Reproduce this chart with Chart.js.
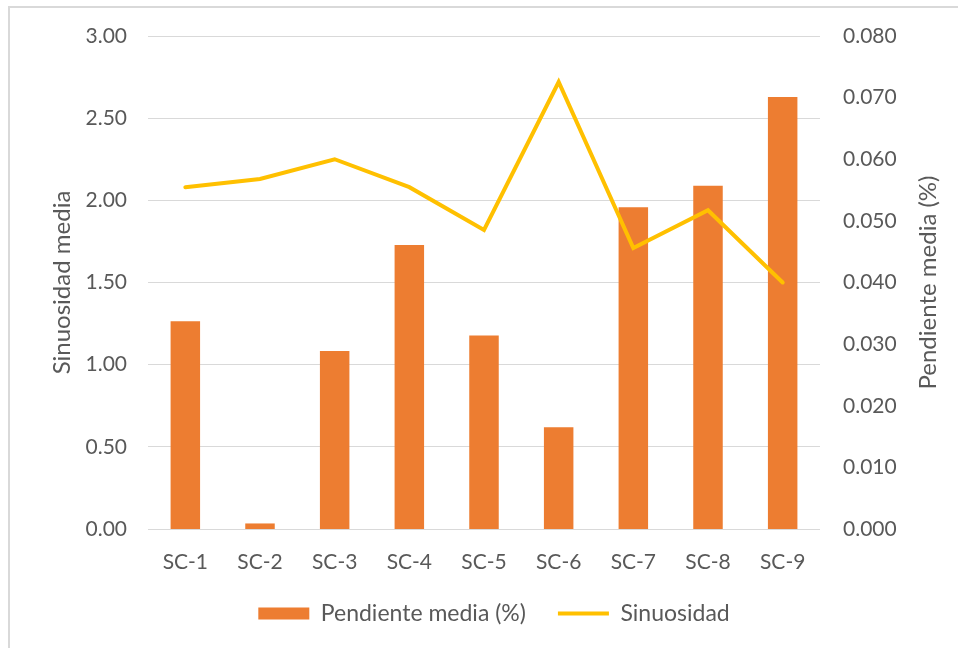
<!DOCTYPE html>
<html>
<head>
<meta charset="utf-8">
<script src="https://cdn.jsdelivr.net/npm/chart.js@4"></script>
<style>
  body { margin: 0; background: #fff; }
  #marco { position: absolute; left: 8px; top: 6px; width: 980px; height: 680px; border: 2px solid #d9d9d9; box-sizing: border-box; }
  #grafico { position: absolute; left: 0; top: 0; }
</style>
</head>
<body>
<div id="marco"></div>
<canvas id="grafico" width="958" height="648"></canvas>
<script>
const categorias = ['SC-1', 'SC-2', 'SC-3', 'SC-4', 'SC-5', 'SC-6', 'SC-7', 'SC-8', 'SC-9'];
const pendiente = [0.0337, 0.0009, 0.0289, 0.0461, 0.0314, 0.0165, 0.0522, 0.0557, 0.0701];
const sinuosidad = [2.08, 2.13, 2.25, 2.08, 1.82, 2.72, 1.71, 1.94, 1.50];

const fuente = 'Lato';
const gris = '#595959';

// legend: fixed height, and nudged right like in the original
const ajusteLeyenda = {
    id: 'ajusteLeyenda',
    beforeInit(chart) {
        const fit = chart.legend.fit;
        chart.legend.fit = function () {
            fit.bind(chart.legend)();
            this.height = 70;
        };
    },
    afterLayout(chart) {
        chart.legend.left += 15;
        chart.legend.right += 15;
    }
};

// right axis title reads bottom to top, like the left one
const tituloDerecho = {
    id: 'tituloDerecho',
    afterDraw(chart) {
        const ctx = chart.ctx;
        const area = chart.chartArea;
        ctx.save();
        ctx.translate(928, (area.top + area.bottom) / 2);
        ctx.rotate(-Math.PI / 2);
        ctx.fillStyle = gris;
        ctx.font = '24px ' + fuente;
        ctx.textAlign = 'center';
        ctx.textBaseline = 'middle';
        ctx.fillText('Pendiente media (%)', 0, 0);
        ctx.restore();
    }
};

const ctx = document.getElementById('grafico').getContext('2d');
const chart = new Chart(ctx, {
    data: {
        labels: categorias,
        datasets: [{
            type: 'bar',
            label: 'Pendiente media (%)',
            data: pendiente,
            yAxisID: 'yDer',
            backgroundColor: '#ED7D31',
            barPercentage: 0.395,
            categoryPercentage: 1,
            order: 1
        }, {
            type: 'line',
            label: 'Sinuosidad',
            data: sinuosidad,
            yAxisID: 'yIzq',
            borderColor: '#FFC000',
            backgroundColor: '#FFC000',
            borderWidth: 4,
            borderCapStyle: 'round',
            tension: 0,
            pointRadius: 0,
            order: 0
        }]
    },
    options: {
        responsive: false,
        animation: false,
        layout: { padding: { top: 36, left: 0, right: 0, bottom: 8 } },
        plugins: {
            tooltip: { enabled: false },
            legend: {
                position: 'bottom',
                labels: {
                    font: { family: fuente, size: 23 },
                    color: gris,
                    usePointStyle: true,
                    pointStyleWidth: 51,
                    boxHeight: 12,
                    padding: 32,
                    sort: (a, b) => a.datasetIndex - b.datasetIndex,
                    generateLabels(chart) {
                        return chart.data.datasets.map((ds, i) => ({
                            text: ds.label,
                            fillStyle: ds.type === 'bar' ? ds.backgroundColor : 'rgba(0,0,0,0)',
                            strokeStyle: ds.type === 'bar' ? 'rgba(0,0,0,0)' : ds.borderColor,
                            lineWidth: ds.type === 'bar' ? 0 : 4,
                            pointStyle: ds.type === 'bar' ? 'rect' : 'line',
                            fontColor: gris,
                            datasetIndex: i
                        }));
                    }
                }
            }
        },
        scales: {
            x: {
                grid: { display: false },
                border: { display: false },
                ticks: { color: gris, font: { family: fuente, size: 21 }, padding: 13, maxRotation: 0 },
                afterFit(scale) { scale.height = 41; }
            },
            yIzq: {
                position: 'left',
                min: 0,
                max: 3,
                grid: { color: '#d9d9d9', lineWidth: 1, drawTicks: false },
                border: { display: false },
                ticks: {
                    stepSize: 0.5,
                    color: gris,
                    font: { family: fuente, size: 21 },
                    padding: 21,
                    callback: v => v.toFixed(2)
                },
                title: {
                    display: true,
                    text: 'Sinuosidad media',
                    color: gris,
                    font: { family: fuente, size: 24 },
                    padding: { top: 48 }
                },
                afterFit(scale) { scale.width = 148; }
            },
            yDer: {
                position: 'right',
                min: 0,
                max: 0.08,
                grid: { display: false, drawTicks: false },
                border: { display: false },
                ticks: {
                    stepSize: 0.01,
                    color: gris,
                    font: { family: fuente, size: 21 },
                    padding: 23,
                    callback: v => v.toFixed(3)
                },
                afterFit(scale) { scale.width = 138; }
            }
        }
    },
    plugins: [ajusteLeyenda, tituloDerecho]
});
</script>
</body>
</html>
